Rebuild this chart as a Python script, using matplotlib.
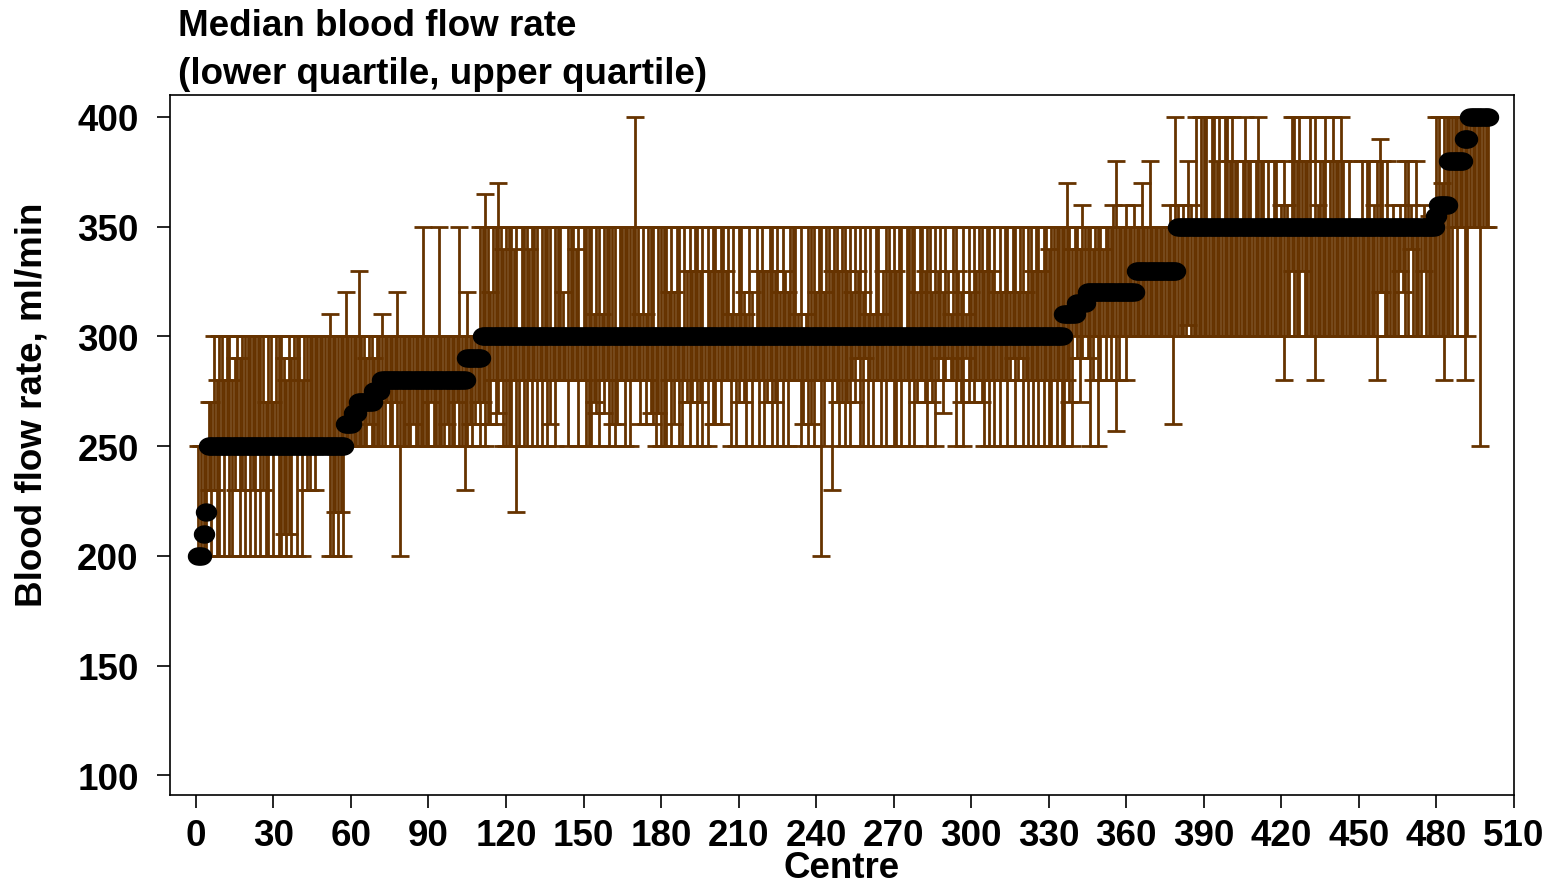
import numpy as np
import matplotlib.pyplot as plt
from matplotlib.path import Path

plt.rcParams['font.family'] = ['Liberation Sans', 'DejaVu Sans']
plt.rcParams['font.weight'] = 'bold'

# median blood flow rate per centre (centres sorted by median): (value, n centres)
median_runs = [(200, 2), (210, 1), (220, 1), (250, 53), (260, 3), (265, 2),
               (270, 6), (275, 3), (280, 33), (290, 6), (300, 225), (310, 5),
               (315, 4), (320, 19), (330, 16), (350, 100), (355, 1), (360, 4),
               (380, 6), (390, 2), (400, 8)]

# upper quartile per centre
upper = [
    # 1-57
    250, 250, 250, 250, 270, 270, 300, 280, 300, 300,
    280, 300, 300, 280, 290, 300, 290, 300, 300, 300,
    300, 300, 300, 300, 300, 300, 270, 300, 300, 270,
    300, 300, 300, 290, 280, 300, 290, 300, 300, 300,
    280, 300, 300, 300, 300, 300, 300, 300, 300, 300,
    300, 310, 300, 300, 300, 300, 300,
    # 58-110
    320, 300, 300, 300, 300, 330, 300, 300, 290, 300,
    300, 290, 300, 300, 310, 300, 300, 300, 300, 300,
    320, 300, 300, 300, 300, 300, 300, 300, 300, 300,
    350, 300, 300, 300, 300, 300, 350, 300, 300, 300,
    300, 300, 300, 300, 350, 300, 300, 320, 300, 300,
    300, 300, 350,
    # 111-335
    350, 365, 350, 320, 350, 350, 370, 350, 340, 350,
    350, 350, 340, 350, 300, 350, 350, 350, 340, 350,
    350, 350, 300, 350, 350, 350, 350, 300, 350, 350,
    350, 320, 300, 350, 350, 350, 340, 350, 300, 350,
    350, 350, 350, 310, 350, 350, 310, 350, 350, 350,
    350, 350, 300, 350, 350, 350, 350, 350, 350, 400,
    350, 310, 350, 310, 350, 350, 350, 300, 350, 350,
    350, 350, 320, 350, 320, 350, 350, 300, 350, 330,
    350, 330, 350, 350, 330, 350, 300, 350, 330, 350,
    350, 330, 350, 350, 330, 350, 310, 350, 310, 350,
    350, 320, 310, 350, 320, 300, 350, 330, 350, 330,
    330, 350, 350, 330, 350, 320, 350, 330, 320, 350,
    350, 350, 310, 350, 300, 310, 350, 350, 350, 320,
    350, 350, 320, 350, 350, 330, 350, 350, 330, 350,
    350, 330, 350, 320, 350, 330, 350, 320, 350, 310,
    350, 310, 350, 350, 310, 330, 350, 350, 330, 350,
    330, 350, 350, 300, 350, 350, 350, 350, 320, 350,
    350, 330, 350, 350, 320, 350, 330, 350, 320, 350,
    330, 310, 350, 350, 330, 320, 350, 310, 350, 320,
    350, 330, 350, 350, 330, 350, 350, 330, 350, 320,
    350, 320, 350, 350, 320, 350, 350, 320, 350, 350,
    320, 350, 350, 330, 350, 350, 330, 350, 350, 340,
    350, 350, 350, 350, 350,
    # 336-379
    350, 370, 350, 340, 350, 350, 340, 360, 350, 350,
    350, 340, 350, 350, 350, 340, 350, 350, 350, 360,
    380, 350, 350, 350, 360, 350, 350, 360, 350, 350,
    370, 350, 350, 380, 350, 350, 350, 350, 350, 350,
    350, 360, 350, 400,
    # 380-479
    360, 350, 360, 350, 380, 360, 350, 400, 350, 400,
    400, 400, 350, 400, 400, 380, 400, 350, 400, 400,
    380, 400, 380, 380, 350, 380, 400, 380, 380, 350,
    380, 400, 380, 380, 350, 380, 350, 380, 380, 350,
    360, 380, 360, 350, 400, 400, 380, 400, 380, 380,
    380, 400, 350, 400, 360, 380, 380, 400, 350, 380,
    400, 380, 380, 400, 380, 350, 380, 350, 350, 350,
    350, 380, 350, 380, 380, 350, 360, 380, 390, 380,
    350, 380, 350, 360, 350, 350, 360, 350, 380, 380,
    360, 350, 380, 350, 350, 360, 350, 355, 350, 350,
    # 480-500
    400, 400, 370, 400, 400, 400, 400, 400, 400, 400,
    400, 400, 400, 400, 400, 400, 400, 400, 400, 400,
    400,
]

# lower quartile per centre
lower = [
    # 1-57
    200, 200, 200, 200, 230, 200, 230, 200, 200, 250,
    200, 250, 200, 200, 230, 250, 200, 230, 200, 250,
    200, 230, 200, 250, 200, 230, 200, 200, 250, 200,
    250, 200, 200, 210, 200, 210, 200, 250, 200, 250,
    200, 250, 230, 230, 250, 230, 250, 250, 250, 250,
    250, 200, 200, 220, 200, 220, 200,
    # 58-110
    250, 250, 250, 250, 250, 250, 250, 250, 250, 260,
    250, 250, 250, 250, 250, 250, 270, 250, 250, 270,
    250, 200, 250, 250, 250, 250, 260, 250, 250, 250,
    250, 250, 250, 270, 250, 250, 250, 250, 250, 260,
    250, 250, 250, 270, 250, 250, 230, 250, 260, 250,
    260, 270, 250,
    # 111-335
    270, 250, 260, 260, 280, 260, 265, 280, 250, 250,
    250, 250, 280, 220, 250, 280, 250, 250, 280, 250,
    280, 250, 280, 250, 280, 250, 260, 280, 250, 280,
    280, 280, 280, 250, 280, 280, 280, 250, 280, 280,
    250, 250, 250, 270, 265, 250, 280, 265, 280, 250,
    260, 250, 260, 280, 280, 250, 280, 250, 280, 280,
    280, 260, 280, 260, 280, 265, 260, 250, 265, 250,
    250, 250, 280, 250, 260, 280, 250, 250, 280, 270,
    250, 270, 280, 250, 270, 250, 280, 250, 280, 260,
    260, 280, 260, 280, 280, 280, 250, 280, 250, 270,
    280, 270, 250, 280, 250, 280, 280, 250, 280, 250,
    270, 280, 250, 270, 250, 280, 250, 280, 250, 280,
    280, 280, 280, 250, 260, 280, 250, 260, 250, 280,
    280, 200, 250, 280, 280, 230, 280, 270, 250, 270,
    250, 270, 250, 280, 270, 290, 250, 250, 290, 250,
    280, 250, 280, 280, 250, 280, 250, 280, 280, 250,
    250, 280, 250, 280, 280, 250, 280, 250, 270, 280,
    280, 270, 250, 280, 270, 250, 280, 290, 265, 280,
    290, 280, 280, 250, 280, 270, 250, 290, 270, 280,
    270, 280, 280, 270, 250, 280, 250, 280, 250, 280,
    250, 280, 280, 250, 280, 290, 250, 280, 290, 250,
    280, 250, 280, 250, 280, 250, 280, 250, 280, 250,
    250, 280, 250, 280, 250,
    # 336-379
    250, 280, 270, 250, 300, 290, 270, 290, 300, 290,
    250, 280, 300, 250, 280, 300, 280, 300, 280, 300,
    257, 280, 300, 300, 280, 300, 300, 300, 300, 300,
    300, 300, 300, 300, 300, 300, 300, 300, 300, 300,
    300, 300, 260, 300,
    # 380-479
    300, 300, 300, 300, 305, 300, 300, 300, 300, 300,
    300, 300, 300, 300, 300, 300, 300, 300, 300, 300,
    300, 300, 300, 300, 300, 300, 300, 300, 300, 300,
    300, 300, 300, 300, 300, 300, 300, 300, 300, 300,
    300, 280, 300, 300, 330, 300, 300, 300, 330, 300,
    300, 300, 300, 280, 300, 300, 300, 300, 300, 300,
    300, 300, 300, 300, 300, 300, 300, 300, 300, 300,
    300, 300, 300, 300, 300, 300, 300, 280, 320, 320,
    300, 300, 300, 300, 300, 300, 330, 320, 300, 300,
    340, 300, 300, 300, 300, 330, 300, 300, 300, 300,
    # 480-500
    300, 300, 300, 280, 300, 300, 300, 350, 300, 350,
    350, 280, 300, 350, 350, 350, 350, 250, 350, 350,
    350,
]

median = np.repeat([v for v, n in median_runs], [n for v, n in median_runs])
centre = np.arange(1, len(median) + 1)
upper = np.array(upper)
lower = np.array(lower)

brown = '#663300'

# wide oval marker like the Stata dots
t = np.linspace(0, 2 * np.pi, 64)
oval = Path(np.column_stack([np.cos(t), 0.85 * np.sin(t)]), closed=True)

fig = plt.figure(figsize=(15.59, 8.87), dpi=100)
ax = fig.add_axes([170 / 1559, 1 - 796 / 887, 1344 / 1559, 700 / 887])

ax.errorbar(centre, median, yerr=[median - lower, upper - median], fmt='none',
            ecolor=brown, elinewidth=2.0, capsize=6.3, capthick=2.0, zorder=2)
ax.plot(centre, median, linestyle='none', marker=oval, markersize=14.4,
        color='black', zorder=3)

ax.set_xlim(-10, 510)
ax.set_ylim(91, 410)
ax.set_xticks(np.arange(0, 511, 30))
ax.set_yticks(np.arange(100, 401, 50))
ax.tick_params(axis='both', labelsize=26.5, length=9.5, width=1.2, direction='out')
ax.tick_params(axis='y', pad=13)
ax.tick_params(axis='x', pad=7)
for s in ax.spines.values():
    s.set_linewidth(1.2)

fig.text(178 / 1559, 1 - 36 / 887, 'Median blood flow rate', fontsize=26.5,
         fontweight='bold', ha='left', va='baseline')
fig.text(178 / 1559, 1 - 84 / 887, '(lower quartile, upper quartile)', fontsize=26.5,
         fontweight='bold', ha='left', va='baseline')
fig.text(32 / 1559, 1 - 405 / 887, 'Blood flow rate, ml/min', fontsize=26.5,
         fontweight='bold', rotation=90, ha='center', va='center')
fig.text(842 / 1559, 1 - 886 / 887, 'Centre', fontsize=26.5,
         fontweight='bold', ha='center', va='bottom')

fig.savefig('out.png', dpi=100)
